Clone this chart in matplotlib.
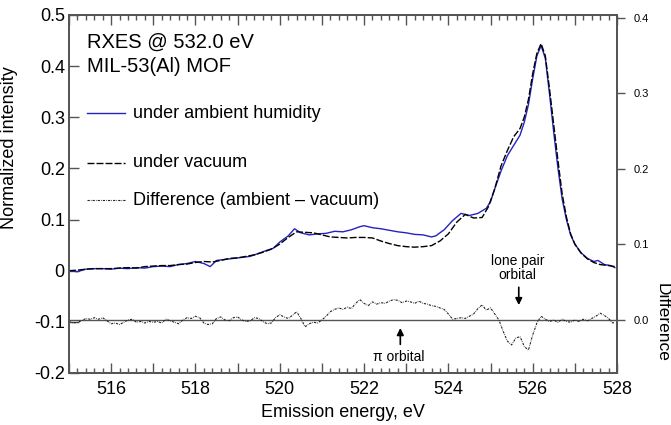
import matplotlib
matplotlib.use("Agg")
import matplotlib.pyplot as plt
from matplotlib.ticker import MultipleLocator, FixedLocator, FuncFormatter

plt.rcParams['font.family'] = ['Liberation Sans', 'DejaVu Sans']
plt.rcParams['axes.unicode_minus'] = False

# ambient humidity spectrum
e_amb = [515.0, 515.2, 515.4, 515.6, 515.8, 516.0, 516.2, 516.4, 516.6, 516.8,
         517.0, 517.2, 517.4, 517.6, 517.8, 518.0, 518.2, 518.35, 518.5, 518.7,
         518.9, 519.1, 519.3, 519.5, 519.7, 519.85, 520.0, 520.2, 520.35, 520.5,
         520.7, 520.9, 521.1, 521.3, 521.5, 521.7, 521.9, 522.0, 522.2, 522.4,
         522.6, 522.8, 523.0, 523.2, 523.4, 523.6, 523.7, 523.9, 524.1, 524.3,
         524.5, 524.7, 524.9, 525.0, 525.1, 525.25, 525.4, 525.55, 525.7, 525.8,
         525.9, 526.0, 526.1, 526.2, 526.3, 526.4, 526.5, 526.6, 526.7, 526.8,
         526.9, 527.0, 527.15, 527.3, 527.45, 527.55, 527.7, 527.85, 527.95]
ambient = [0.000, -0.002, 0.003, 0.004, 0.004, 0.003, 0.005, 0.004, 0.006, 0.005,
           0.008, 0.009, 0.008, 0.012, 0.014, 0.018, 0.014, 0.008, 0.020, 0.022,
           0.024, 0.026, 0.028, 0.034, 0.040, 0.044, 0.056, 0.068, 0.082, 0.074,
           0.070, 0.072, 0.073, 0.077, 0.076, 0.080, 0.086, 0.088, 0.084, 0.082,
           0.079, 0.076, 0.074, 0.071, 0.070, 0.066, 0.068, 0.080, 0.098, 0.112,
           0.108, 0.112, 0.122, 0.135, 0.160, 0.195, 0.225, 0.245, 0.265, 0.290,
           0.325, 0.375, 0.420, 0.440, 0.415, 0.345, 0.270, 0.200, 0.140, 0.100,
           0.070, 0.052, 0.035, 0.024, 0.018, 0.020, 0.012, 0.010, 0.006]

# vacuum spectrum
e_vac = [515.0, 515.2, 515.4, 515.6, 515.8, 516.0, 516.2, 516.4, 516.6, 516.8,
         517.0, 517.2, 517.4, 517.6, 517.8, 518.0, 518.2, 518.4, 518.6, 518.8,
         519.0, 519.2, 519.4, 519.6, 519.8, 520.0, 520.2, 520.4, 520.6, 520.8,
         521.0, 521.2, 521.4, 521.6, 521.8, 522.0, 522.2, 522.4, 522.6, 522.8,
         523.0, 523.2, 523.4, 523.6, 523.8, 524.0, 524.2, 524.4, 524.6, 524.8,
         524.95, 525.1, 525.25, 525.4, 525.55, 525.7, 525.8, 525.9, 526.0, 526.1,
         526.2, 526.3, 526.4, 526.5, 526.6, 526.7, 526.8, 526.9, 527.0, 527.15,
         527.3, 527.45, 527.6, 527.8, 527.95]
vacuum = [0.000, 0.001, 0.003, 0.004, 0.004, 0.004, 0.005, 0.006, 0.005, 0.008,
          0.009, 0.010, 0.010, 0.012, 0.013, 0.016, 0.018, 0.017, 0.020, 0.024,
          0.025, 0.028, 0.031, 0.036, 0.042, 0.052, 0.065, 0.076, 0.075, 0.074,
          0.070, 0.066, 0.065, 0.064, 0.065, 0.065, 0.064, 0.058, 0.053, 0.049,
          0.047, 0.046, 0.047, 0.049, 0.058, 0.072, 0.095, 0.110, 0.103, 0.104,
          0.125, 0.160, 0.205, 0.235, 0.262, 0.278, 0.300, 0.335, 0.385, 0.425,
          0.444, 0.420, 0.355, 0.285, 0.215, 0.150, 0.105, 0.072, 0.052, 0.034,
          0.023, 0.016, 0.012, 0.010, 0.008]

# difference (ambient - vacuum), right axis
e_diff = [515.0, 515.1, 515.2, 515.3, 515.4, 515.5, 515.6, 515.7, 515.8, 515.9,
          516.0, 516.1, 516.2, 516.3, 516.4, 516.5, 516.6, 516.7, 516.8, 516.9,
          517.0, 517.1, 517.2, 517.3, 517.4, 517.5, 517.6, 517.7, 517.8, 517.9,
          518.0, 518.1, 518.2, 518.3, 518.4, 518.5, 518.6, 518.7, 518.8, 518.9,
          519.0, 519.1, 519.2, 519.3, 519.4, 519.5, 519.6, 519.7, 519.8, 519.9,
          520.0, 520.1, 520.2, 520.3, 520.4, 520.5, 520.6, 520.7, 520.8, 520.9,
          521.0, 521.1, 521.2, 521.3, 521.4, 521.5, 521.6, 521.7, 521.8, 521.9,
          522.0, 522.1, 522.2, 522.3, 522.4, 522.5, 522.6, 522.7, 522.8, 522.9,
          523.0, 523.1, 523.2, 523.3, 523.4, 523.5, 523.6, 523.7, 523.8, 523.9,
          524.0, 524.1, 524.2, 524.3, 524.4, 524.5, 524.6, 524.7, 524.8, 524.9,
          525.0, 525.1, 525.2, 525.3, 525.4, 525.5, 525.6, 525.7, 525.8, 525.9,
          526.0, 526.1, 526.2, 526.3, 526.4, 526.5, 526.6, 526.7, 526.8, 526.9,
          527.0, 527.1, 527.2, 527.3, 527.4, 527.5, 527.6, 527.7, 527.8, 527.9,
          527.95]
difference = [-0.002, -0.004, -0.003, -0.001, 0.002, 0.001, 0.003, 0.001, 0.003, -0.001,
              -0.005, -0.004, -0.006, -0.003, 0.000, 0.001, -0.003, -0.002, -0.004, -0.002,
              -0.003, -0.002, -0.004, 0.001, -0.001, -0.003, -0.005, 0.000, 0.003, 0.002,
              0.005, 0.003, -0.004, -0.006, -0.005, 0.002, 0.004, 0.000, -0.001, 0.003,
              0.004, 0.000, -0.002, -0.001, 0.003, 0.002, -0.002, -0.005, -0.004, 0.003,
              0.007, 0.004, 0.002, 0.006, 0.011, 0.002, -0.009, -0.005, -0.003, -0.004,
              0.000, 0.005, 0.011, 0.014, 0.016, 0.014, 0.017, 0.015, 0.022, 0.027,
              0.022, 0.019, 0.024, 0.021, 0.023, 0.022, 0.025, 0.027, 0.026, 0.023,
              0.025, 0.024, 0.022, 0.025, 0.022, 0.021, 0.019, 0.018, 0.016, 0.014,
              0.008, 0.001, 0.002, 0.003, 0.002, 0.005, 0.008, 0.015, 0.020, 0.013,
              0.016, 0.008, 0.000, -0.015, -0.028, -0.033, -0.024, -0.022, -0.035, -0.040,
              -0.020, -0.004, 0.005, 0.001, -0.002, 0.000, -0.003, 0.001, -0.002, -0.003,
              0.000, -0.002, 0.001, -0.001, 0.002, 0.005, 0.009, 0.006, 0.002, -0.004,
              -0.003]

left_ticks = [-0.2, -0.1, 0, 0.1, 0.2, 0.3, 0.4, 0.5]
right_ticks = [0.0, 0.1, 0.2, 0.3, 0.4]

spine_col = '#555555'
blue = '#2424c0'
vac_ls = (0, (5, 1.5))
diff_ls = (0, (2, 1, 0.6, 1))

fig = plt.figure(figsize=(6.71, 4.25), dpi=100)
ax = fig.add_axes([0.1028, 0.1224, 0.8167, 0.8424])
ax2 = ax.twinx()

ax.plot(e_amb, ambient, color=blue, lw=1.0)
ax.plot(e_vac, vacuum, color='black', lw=1.0, ls=vac_ls)
ax2.axhline(0, color='#555555', lw=1.0)
ax2.plot(e_diff, difference, color='#222222', lw=0.8, ls=diff_ls)

ax.set_xlim(515, 528)
ax.set_ylim(-0.2, 0.5)
ax2.set_ylim(-0.0702, 0.404)

ax.xaxis.set_major_locator(MultipleLocator(1))
ax.xaxis.set_minor_locator(MultipleLocator(0.2))
ax.xaxis.set_major_formatter(FuncFormatter(lambda v, p: '%d' % v if int(round(v)) % 2 == 0 else ''))
ax.yaxis.set_major_locator(FixedLocator(left_ticks))
ax.yaxis.set_major_formatter(FuncFormatter(lambda v, p: '0' if abs(v) < 1e-9 else '%.1f' % v))
ax2.yaxis.set_major_locator(FixedLocator(right_ticks))
ax2.yaxis.set_major_formatter(FuncFormatter(lambda v, p: '%.1f' % v))

ax.tick_params(axis='x', which='major', direction='in', length=7, top=True, labelsize=13,
               color=spine_col, width=1.0, pad=6)
ax.tick_params(axis='x', which='minor', direction='in', length=3.5, top=True,
               color=spine_col, width=1.0)
ax.tick_params(axis='y', which='major', direction='in', length=7, labelsize=13,
               color=spine_col, width=1.0, pad=3)
ax2.tick_params(axis='y', which='major', direction='out', length=6, labelsize=8,
                color=spine_col, width=1.0, pad=6)

for a in (ax, ax2):
    for s in a.spines.values():
        s.set_color(spine_col)
        s.set_linewidth(1.3)

ax.set_xlabel('Emission energy, eV', fontsize=13, labelpad=4)
ax.set_ylabel('Normalized intensity', fontsize=13)
ax.yaxis.set_label_coords(-0.093, 0.63)
ax2.set_ylabel('Difference', fontsize=12.5, rotation=270, va='center')
ax2.yaxis.set_label_coords(1.082, 0.14)

# title block
ax.text(0.033, 0.925, 'RXES @ 532.0 eV', transform=ax.transAxes, fontsize=14.5, va='center', ha='left')
ax.text(0.033, 0.855, 'MIL-53(Al) MOF', transform=ax.transAxes, fontsize=14.5, va='center', ha='left')

# hand-drawn legend
leg = [('under ambient humidity', blue, '-', 1.0, 0.726),
       ('under vacuum', 'black', vac_ls, 1.0, 0.587),
       ('Difference (ambient \u2013 vacuum)', '#222222', diff_ls, 0.8, 0.483)]
for label, col, ls, lw, y in leg:
    ax.plot([0.033, 0.102], [y, y], transform=ax.transAxes, color=col, ls=ls, lw=lw)
    ax.text(0.117, y, label, transform=ax.transAxes, fontsize=13, va='center', ha='left')

# annotations
ax2.annotate('', xy=(525.67, 0.016), xytext=(525.67, 0.047),
             arrowprops=dict(arrowstyle='-|>', color='black', lw=1.2, mutation_scale=10))
ax2.text(525.64, 0.069, 'lone pair\norbital', ha='center', va='center', fontsize=10,
         linespacing=1.0)
ax2.annotate('', xy=(522.86, -0.007), xytext=(522.86, -0.036),
             arrowprops=dict(arrowstyle='-|>', color='black', lw=1.2, mutation_scale=10))
ax2.text(522.83, -0.049, '\u03c0 orbital', ha='center', va='center', fontsize=10)

fig.savefig('out.png', dpi=100)
